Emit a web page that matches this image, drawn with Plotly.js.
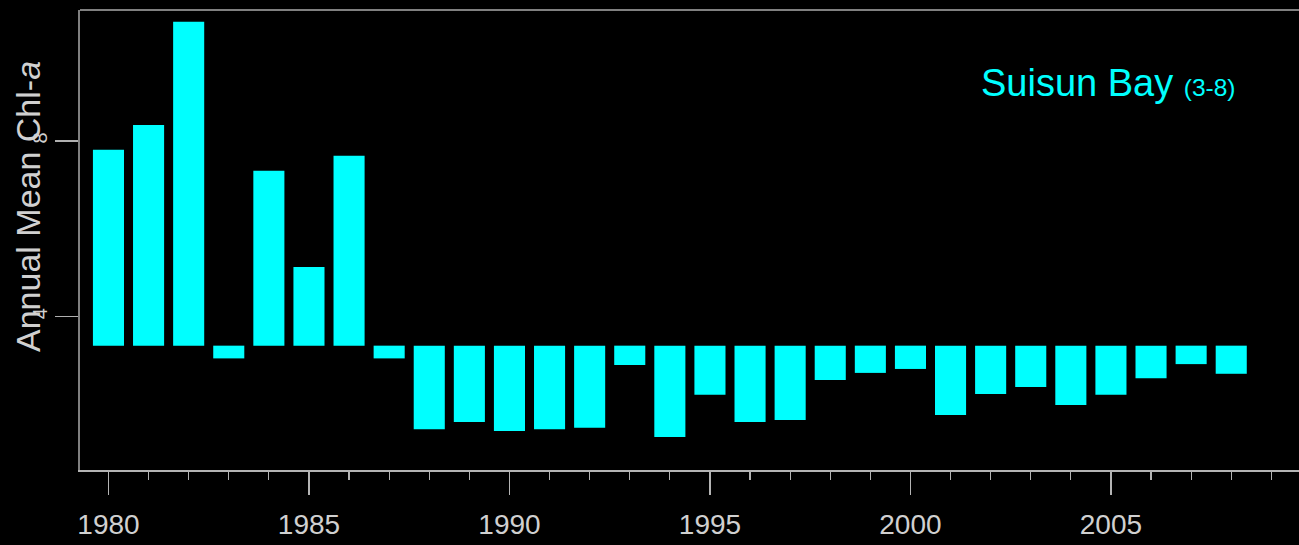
<!DOCTYPE html>
<html>
<head>
<meta charset="utf-8">
<script src="https://cdn.plot.ly/plotly-3.0.1.min.js"></script>
<style>
html,body{margin:0;padding:0;background:#000;overflow:hidden;}
#chart{width:1299px;height:545px;}
</style>
</head>
<body>
<div id="chart"></div>
<script>
// Data
const years = [1980,1981,1982,1983,1984,1985,1986,1987,1988,1989,1990,1991,1992,1993,1994,
               1995,1996,1997,1998,1999,2000,2001,2002,2003,2004,2005,2006,2007,2008];
const chlA = [7.80,8.36,10.71,3.05,7.32,5.13,7.66,3.05,1.44,1.60,1.40,1.44,1.47,2.90,1.26,
              2.22,1.60,1.65,2.56,2.72,2.81,1.76,2.24,2.40,1.99,2.22,2.60,2.92,2.70];
const baseline = 3.34;          // long-term mean the bars hang from
const yTickVals = [4, 8];
const yTickText = ['4', '8'];
const xTickVals = [1980,1985,1990,1995,2000,2005];
const xTickText = ['1980','1985','1990','1995','2000','2005'];

const trace = {
  type: 'bar',
  x: years,
  y: chlA.map(v => v - baseline),
  base: baseline,
  width: 0.775,
  marker: {color: '#00ffff', line: {width: 0}},
  hoverinfo: 'skip'
};

const layout = {
  width: 1299, height: 545,
  paper_bgcolor: '#000', plot_bgcolor: '#000',
  margin: {l: 80, r: 0, t: 10, b: 75, pad: 0},
  showlegend: false,
  font: {family: 'Liberation Sans, Arial, sans-serif', color: '#d0d0d0'},
  xaxis: {
    range: [1979.29, 2009.69],
    showgrid: false, zeroline: false,
    showline: true, linecolor: '#b4b4b4', linewidth: 1.5,
    tickmode: 'array', tickvals: xTickVals, ticktext: xTickText,
    ticks: 'outside', ticklen: 23, tickwidth: 1.5, tickcolor: '#b4b4b4',
    minor: {tickmode: 'linear', tick0: 1980, dtick: 1, ticks: 'outside', ticklen: 8, tickwidth: 1.2, tickcolor: '#b4b4b4'},
    tickfont: {size: 28, color: '#d0d0d0'},
    ticklabelstandoff: 6
  },
  yaxis: {
    range: [0.51, 10.98],
    showgrid: false, zeroline: false,
    showline: true, linecolor: '#808080', linewidth: 2,
    tickmode: 'array', tickvals: yTickVals, ticktext: yTickText,
    ticks: 'outside', ticklen: 23, tickwidth: 1.5, tickcolor: '#b0b0b0',
    tickangle: -90,
    tickfont: {size: 20, color: '#d0d0d0'},
    ticklabelstandoff: 0
  },
  shapes: [{
    type: 'line', xref: 'paper', yref: 'paper',
    x0: 0, x1: 1, y0: 1, y1: 1,
    line: {color: '#808080', width: 2}
  }],
  annotations: [
    {
      xref: 'paper', yref: 'paper',
      x: -52/1219, y: (470-207)/460,
      xanchor: 'center', yanchor: 'middle',
      textangle: -90, showarrow: false,
      text: 'Annual Mean Chl-<i>a</i>',
      font: {size: 34, color: '#d0d0d0'}
    },
    {
      xref: 'paper', yref: 'paper',
      x: (979-80)/1219, y: (470-83)/460,
      xanchor: 'left', yanchor: 'middle',
      showarrow: false,
      text: 'Suisun Bay <span style="font-size:24.5px">(3-8)</span>',
      font: {size: 38, color: '#00ffff'}
    }
  ]
};

Plotly.newPlot('chart', [trace], layout, {displayModeBar: false, staticPlot: true});
</script>
</body>
</html>
